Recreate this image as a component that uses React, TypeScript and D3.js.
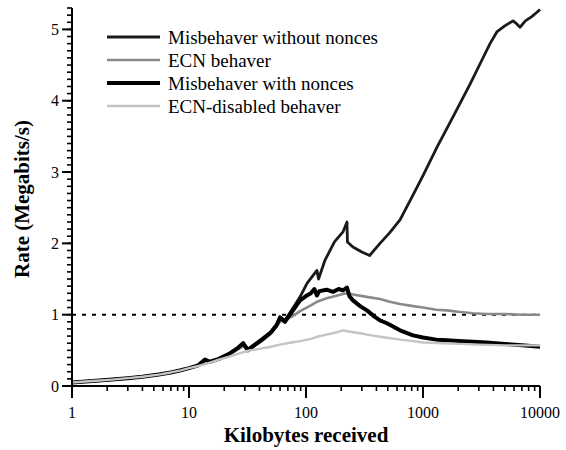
import React from "react";
import * as d3 from "d3";

const W = 566;
const H = 450;
const margin = { left: 72, right: 26, top: 8, bottom: 64 };

// Misbehaver without nonces
const misNoX = [1, 1.5, 2.2, 3, 4, 5.5, 7, 8.5, 10, 12, 13.7, 15.1, 18, 22, 26, 29, 31.9, 36, 42, 50, 56, 60, 66, 75, 89, 102, 115, 124, 128, 145, 175, 207, 224, 226, 252, 300, 350, 429, 520, 636, 800, 1000, 1318, 1800, 2500, 3300, 3740, 4300, 5000, 5880, 6300, 6750, 7500, 8500, 9420, 10000];
const misNoY = [0.05, 0.07, 0.09, 0.11, 0.13, 0.16, 0.19, 0.22, 0.25, 0.29, 0.37, 0.34, 0.38, 0.45, 0.53, 0.6, 0.52, 0.58, 0.66, 0.76, 0.86, 0.97, 0.92, 1.06, 1.25, 1.44, 1.55, 1.62, 1.5, 1.76, 2.02, 2.16, 2.3, 2.02, 1.95, 1.88, 1.83, 2.0, 2.15, 2.33, 2.64, 2.95, 3.35, 3.77, 4.22, 4.62, 4.8, 4.97, 5.05, 5.12, 5.08, 5.03, 5.12, 5.18, 5.24, 5.28];

// ECN behaver
const ecnX = [1, 1.5, 2.2, 3, 4, 5.5, 7, 8.5, 10, 12, 13.7, 15.1, 18, 22, 26, 29, 31.9, 36, 42, 50, 60, 75, 89, 110, 124, 150, 175, 207, 224, 260, 330, 429, 520, 636, 822, 1000, 1300, 1603, 2000, 2674, 3500, 5000, 7000, 10000];
const ecnY = [0.05, 0.07, 0.09, 0.11, 0.13, 0.16, 0.19, 0.22, 0.25, 0.29, 0.35, 0.33, 0.37, 0.44, 0.51, 0.56, 0.5, 0.56, 0.63, 0.73, 0.9, 0.97, 1.05, 1.13, 1.18, 1.23, 1.26, 1.29, 1.3, 1.28, 1.25, 1.22, 1.18, 1.15, 1.12, 1.1, 1.07, 1.06, 1.04, 1.02, 1.01, 1.01, 1.0, 1.0];

// Misbehaver with nonces
const misWithX = [1, 1.5, 2.2, 3, 4, 5.5, 7, 8.5, 10, 12, 13.7, 15.1, 18, 22, 26, 29, 31.9, 36, 42, 50, 56, 60, 66, 75, 89, 102, 110, 118, 124, 130, 150, 170, 190, 207, 224, 235, 252, 290, 332, 380, 429, 492, 560, 636, 822, 1000, 1300, 1603, 2000, 2674, 3500, 5000, 7000, 10000];
const misWithY = [0.05, 0.07, 0.09, 0.11, 0.13, 0.16, 0.19, 0.22, 0.25, 0.29, 0.37, 0.34, 0.38, 0.45, 0.53, 0.6, 0.5, 0.57, 0.65, 0.75, 0.85, 0.96, 0.9, 1.03, 1.2, 1.27, 1.3, 1.36, 1.27, 1.33, 1.35, 1.32, 1.36, 1.34, 1.38, 1.26, 1.2, 1.12, 1.06, 0.98, 0.92, 0.88, 0.83, 0.78, 0.71, 0.68, 0.65, 0.64, 0.63, 0.62, 0.61, 0.59, 0.57, 0.55];

// ECN-disabled behaver
const ecnOffX = [1, 1.5, 2.2, 3, 4, 5.5, 7, 8.5, 10, 12, 14, 16, 18, 22, 26, 30, 33, 40, 50, 60, 75, 89, 110, 124, 150, 180, 207, 240, 290, 332, 429, 636, 822, 1000, 1500, 2000, 3000, 5000, 7000, 10000];
const ecnOffY = [0.05, 0.07, 0.09, 0.11, 0.13, 0.16, 0.19, 0.22, 0.25, 0.28, 0.31, 0.34, 0.37, 0.41, 0.45, 0.48, 0.5, 0.52, 0.55, 0.58, 0.61, 0.63, 0.66, 0.69, 0.72, 0.75, 0.78, 0.76, 0.74, 0.72, 0.69, 0.65, 0.63, 0.61, 0.6, 0.59, 0.58, 0.57, 0.57, 0.57];

const seriesNames = ["Misbehaver without nonces", "ECN behaver", "Misbehaver with nonces", "ECN-disabled behaver"];
const xTickLabels = ["1", "10", "100", "1000", "10000"];
const yTickLabels = ["0", "1", "2", "3", "4", "5"];
const refLine = 1;

const styles = [
  { color: "#1a1a1a", width: 2.8 },
  { color: "#8a8a8a", width: 2.6 },
  { color: "#000000", width: 4 },
  { color: "#c4c4c4", width: 2.4 },
];

export default function App() {
  const x = d3.scaleLog().domain([1, 10000]).range([margin.left, W - margin.right]);
  const y = d3.scaleLinear().domain([0, 5.3]).range([H - margin.bottom, margin.top]);
  const line = d3
    .line<[number, number]>()
    .x((d) => x(d[0]))
    .y((d) => y(d[1]));

  const series = [
    d3.zip(misNoX, misNoY),
    d3.zip(ecnX, ecnY),
    d3.zip(misWithX, misWithY),
    d3.zip(ecnOffX, ecnOffY),
  ] as [number, number][][];

  const y0 = y(0);
  const xMinor: number[] = [];
  for (let d = 1; d < 10000; d *= 10) for (let k = 2; k <= 9; k++) xMinor.push(d * k);
  const yMinor = d3.range(0, 54).map((i) => i / 10);

  const serif = "'Liberation Serif', 'DejaVu Serif', serif";

  return (
    <svg width={W} height={H} style={{ position: "absolute", left: 0, top: 0, background: "#fff" }} fontFamily={serif}>
      <line x1={x(1)} x2={x(10000)} y1={y(refLine)} y2={y(refLine)} stroke="#000" strokeWidth={2} strokeDasharray="4,6" />
      {[0, 1, 2, 3].map((i) => (
        <path key={i} d={line(series[i]) || ""} fill="none" stroke={styles[i].color} strokeWidth={styles[i].width} strokeLinejoin="round" />
      ))}
      <line x1={x(1)} x2={x(10000)} y1={y0} y2={y0} stroke="#000" strokeWidth={2} />
      <line x1={x(1)} x2={x(1)} y1={y(5.3)} y2={y0 + 12} stroke="#000" strokeWidth={2} />
      {xMinor.map((v) => (
        <line key={"xm" + v} x1={x(v)} x2={x(v)} y1={y0} y2={y0 + 5} stroke="#000" strokeWidth={1.6} />
      ))}
      {xTickLabels.map((t) => (
        <g key={"xt" + t}>
          <line x1={x(+t)} x2={x(+t)} y1={y0} y2={y0 + 12} stroke="#000" strokeWidth={2} />
          <text x={x(+t)} y={y0 + 32} textAnchor="middle" fontSize={16}>{t}</text>
        </g>
      ))}
      {yMinor.map((v) => (
        <line key={"ym" + v} x1={x(1) - 5} x2={x(1)} y1={y(v)} y2={y(v)} stroke="#000" strokeWidth={1.6} />
      ))}
      {yTickLabels.map((t) => (
        <g key={"yt" + t}>
          <line x1={x(1) - 10} x2={x(1)} y1={y(+t)} y2={y(+t)} stroke="#000" strokeWidth={2} />
          <text x={x(1) - 13} y={y(+t)} dy="0.35em" textAnchor="end" fontSize={16}>{t}</text>
        </g>
      ))}
      <text x={(x(1) + x(10000)) / 2} y={442} textAnchor="middle" fontSize={21} fontWeight="bold">Kilobytes received</text>
      <text transform={`translate(29,199) rotate(-90)`} textAnchor="middle" fontSize={21} fontWeight="bold">Rate (Megabits/s)</text>
      {seriesNames.map((n, i) => (
        <g key={n} transform={`translate(107,${37 + i * 23})`}>
          <line x1={0} x2={53} y1={0} y2={0} stroke={styles[i].color} strokeWidth={styles[i].width} />
          <text x={61} y={0} dy="0.35em" fontSize={19}>{n}</text>
        </g>
      ))}
    </svg>
  );
}
